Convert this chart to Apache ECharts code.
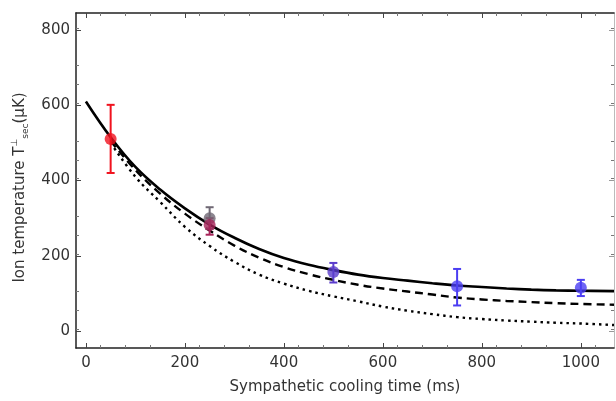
<!DOCTYPE html>
<html>
<head>
<meta charset="utf-8">
<script src="https://cdn.jsdelivr.net/npm/echarts@6/dist/echarts.min.js"></script>
<style>
    html, body { margin: 0; padding: 0; background: #fff; }
    #chart { width: 616px; height: 401px; }
</style>
</head>
<body>
<div id="chart"></div>
<script>
// Fitted curves (time in ms, temperature in uK)
const solidX = [0, 50, 100, 150, 200, 250, 300, 350, 400, 450, 500, 550, 600, 650, 700, 750, 800, 850, 900, 950, 1000, 1067];
const solidY = [610, 515, 436, 376, 326, 283, 248, 218, 194, 176, 162, 150, 141, 134, 127, 121, 117, 113, 110, 108, 107, 106];

const dashX = [50, 100, 150, 200, 250, 300, 350, 400, 450, 500, 550, 600, 650, 700, 750, 800, 850, 900, 950, 1000, 1067];
const dashY = [505, 428, 365, 312, 267, 227, 195, 170, 151, 136, 123, 113, 105, 97, 89, 84, 80, 77, 74, 72, 70];

const dotX = [50, 100, 150, 200, 250, 300, 350, 400, 450, 500, 550, 600, 650, 700, 750, 800, 850, 900, 950, 1000, 1067];
const dotY = [500, 410, 343, 277, 226, 184, 150, 126, 107, 92, 79, 65, 54, 45, 37, 32, 28, 25, 22, 20, 16];

// Measured points with error bars
const pointX = [50, 250, 250, 500, 750, 1000];
const pointY = [510, 300, 282, 157, 119, 115];
const errLow = [420, 272, 256, 129, 68, 93];
const errHigh = [601, 329, 300, 181, 165, 136];
const pointColors = ['#f0121e', '#6f6874', '#a8245a', '#5a3ccc', '#4b3ef2', '#4b3ef2'];

const xTicks = [0, 200, 400, 600, 800, 1000];
const yTicks = [0, 200, 400, 600, 800];

const fontFamily = 'DejaVu Sans, Liberation Sans, sans-serif';

function zip(xs, ys) {
    return xs.map((x, i) => [x, ys[i]]);
}

const chart = echarts.init(document.getElementById('chart'));

const frameAxis = {
    type: 'value',
    axisLine: { show: true, onZero: false, lineStyle: { color: '#222', width: 1.5 } },
    minorTick: { show: true, splitNumber: 4, length: 3, lineStyle: { color: '#777' } },
    splitLine: { show: false },
    axisLabel: { show: false }
};

const option = {
    animation: false,
    backgroundColor: '#fff',
    grid: { left: 76, right: 2, top: 13, bottom: 53 },
    xAxis: [
        Object.assign({}, frameAxis, {
            position: 'bottom',
            min: -20,
            max: 1067,
            interval: 200,
            axisLabel: {
                show: true,
                color: '#333',
                fontSize: 15,
                fontFamily: fontFamily,
                margin: 8,
                customValues: xTicks,
                formatter: v => String(v)
            },
            axisTick: { show: true, inside: true, length: 5, customValues: xTicks, lineStyle: { color: '#444' } },
            name: 'Sympathetic cooling time (ms)',
            nameLocation: 'middle',
            nameGap: 32,
            nameTextStyle: { color: '#333', fontSize: 15, fontFamily: fontFamily }
        }),
        Object.assign({}, frameAxis, {
            position: 'top',
            min: -20,
            max: 1067,
            interval: 200,
            axisTick: { show: true, inside: true, length: 5, customValues: xTicks, lineStyle: { color: '#444' } }
        })
    ],
    yAxis: [
        Object.assign({}, frameAxis, {
            position: 'left',
            min: -45,
            max: 845,
            interval: 200,
            axisLabel: {
                show: true,
                color: '#333',
                fontSize: 15,
                fontFamily: fontFamily,
                margin: 6,
                customValues: yTicks
            },
            axisTick: { show: true, inside: true, length: 5, customValues: yTicks, lineStyle: { color: '#444' } },
            name: '{a|Ion temperature T}{sup|⊥}{sub|sec}{a|(μK)}',
            nameLocation: 'middle',
            nameRotate: 90,
            nameGap: 40,
            nameTextStyle: {
                color: '#333',
                fontFamily: fontFamily,
                padding: [0, 14, 0, 0],
                rich: {
                    a: { fontSize: 15, color: '#333', fontFamily: fontFamily, lineHeight: 20 },
                    sup: { fontSize: 9, color: '#333', fontFamily: fontFamily, verticalAlign: 'top', lineHeight: 20 },
                    sub: { fontSize: 9, color: '#333', fontFamily: fontFamily, verticalAlign: 'bottom', lineHeight: 20 }
                }
            }
        }),
        Object.assign({}, frameAxis, {
            position: 'right',
            min: -45,
            max: 845,
            interval: 200,
            axisLine: { show: true, onZero: false, lineStyle: { color: '#bbb', width: 1 } },
            axisTick: { show: true, inside: true, length: 5, customValues: yTicks, lineStyle: { color: '#999' } }
        })
    ],
    series: [
        {
            type: 'line',
            data: zip(solidX, solidY),
            smooth: 0.4,
            showSymbol: false,
            lineStyle: { color: '#000', width: 2.6 },
            z: 2
        },
        {
            type: 'line',
            data: zip(dashX, dashY),
            smooth: 0.4,
            showSymbol: false,
            lineStyle: { color: '#000', width: 2.4, type: [8, 5] },
            z: 2
        },
        {
            type: 'line',
            data: zip(dotX, dotY),
            smooth: 0.4,
            showSymbol: false,
            lineStyle: { color: '#000', width: 2.4, type: [2.5, 4] },
            z: 2
        },
        {
            // error bars
            type: 'custom',
            z: 3,
            data: pointX.map((x, i) => [x, errLow[i], errHigh[i], i]),
            renderItem: function (params, api) {
                const i = api.value(3);
                const lo = api.coord([api.value(0), api.value(1)]);
                const hi = api.coord([api.value(0), api.value(2)]);
                const cap = 4;
                const style = { stroke: pointColors[i], lineWidth: 2 };
                return {
                    type: 'group',
                    children: [
                        { type: 'line', shape: { x1: lo[0], y1: lo[1], x2: hi[0], y2: hi[1] }, style: style },
                        { type: 'line', shape: { x1: lo[0] - cap, y1: lo[1], x2: lo[0] + cap, y2: lo[1] }, style: style },
                        { type: 'line', shape: { x1: hi[0] - cap, y1: hi[1], x2: hi[0] + cap, y2: hi[1] }, style: style }
                    ]
                };
            }
        },
        {
            type: 'scatter',
            z: 4,
            symbolSize: 12,
            data: pointX.map((x, i) => ({
                value: [x, pointY[i]],
                itemStyle: { color: pointColors[i] }
            }))
        }
    ]
};

chart.setOption(option);
</script>
</body>
</html>
